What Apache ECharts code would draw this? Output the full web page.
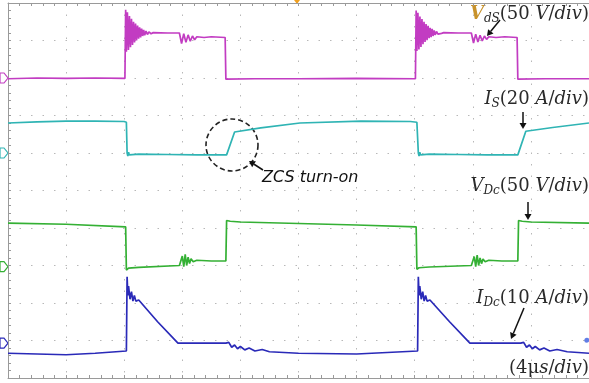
<!DOCTYPE html>
<html>
<head>
<meta charset="utf-8">
<script src="https://cdn.jsdelivr.net/npm/echarts@6/dist/echarts.min.js"></script>
<style>
  html, body { margin: 0; padding: 0; background: #fff; }
  #chart { width: 589px; height: 383px; }
</style>
</head>
<body>
<div id="chart"></div>
<script>
// time in us (4 us/div), amplitude in divisions
var vdsData = [
  [0, 7.98], [2, 8.0], [4, 7.99], [6, 8.0], [8.05, 7.99],
  [8.1, 9.82], [8.15, 8.7], [8.22, 9.75], [8.29, 8.75], [8.36, 9.65], [8.43, 8.82],
  [8.5, 9.58], [8.57, 8.88], [8.64, 9.5], [8.71, 8.95], [8.78, 9.45], [8.85, 9.0],
  [8.92, 9.4], [8.99, 9.05], [9.06, 9.35], [9.13, 9.08], [9.2, 9.32], [9.27, 9.12],
  [9.34, 9.28], [9.41, 9.14], [9.5, 9.25], [9.6, 9.16], [9.7, 9.23], [9.85, 9.18],
  [10, 9.21], [11, 9.2], [11.8, 9.2],
  [11.85, 9.2], [11.95, 8.92], [12.1, 9.18], [12.25, 8.95], [12.4, 9.15], [12.55, 8.98],
  [12.7, 9.12], [12.85, 9.02], [13.0, 9.1], [13.5, 9.08], [14, 9.1], [14.95, 9.08],
  [15.0, 7.97], [17, 7.98], [20, 7.98], [24, 7.99], [28.05, 7.98],
  [28.1, 9.8], [28.15, 8.72], [28.22, 9.74], [28.29, 8.76], [28.36, 9.64], [28.43, 8.83],
  [28.5, 9.57], [28.57, 8.9], [28.64, 9.5], [28.71, 8.96], [28.78, 9.44], [28.85, 9.01],
  [28.92, 9.39], [28.99, 9.06], [29.06, 9.34], [29.13, 9.09], [29.2, 9.31], [29.27, 9.12],
  [29.34, 9.27], [29.41, 9.15], [29.5, 9.24], [29.6, 9.17], [29.7, 9.22], [29.85, 9.19],
  [30, 9.21], [31, 9.2], [31.9, 9.2],
  [31.95, 9.2], [32.05, 8.93], [32.2, 9.17], [32.35, 8.96], [32.5, 9.14], [32.65, 8.99],
  [32.8, 9.12], [32.95, 9.03], [33.1, 9.1], [33.6, 9.08], [34.2, 9.1], [35.05, 9.08],
  [35.1, 7.97], [37, 7.98], [40, 7.98]
];

var isData = [
  [0, 6.8], [2, 6.83], [4, 6.85], [6, 6.85], [8, 6.84], [8.15, 6.82],
  [8.2, 6.0], [8.25, 5.92], [8.3, 6.02], [8.35, 5.95], [8.45, 6.0], [9, 5.97],
  [11, 5.96], [13, 5.95], [15.05, 5.95],
  [15.6, 6.56], [17.4, 6.67], [20.1, 6.8], [24.3, 6.85], [27.7, 6.84], [28.15, 6.82],
  [28.25, 6.0], [28.3, 5.92], [28.35, 6.02], [28.4, 5.95], [28.5, 6.0], [29, 5.97],
  [31, 5.96], [33, 5.95], [35.1, 5.95],
  [35.65, 6.58], [37.5, 6.68], [40, 6.8]
];

var vdcData = [
  [0, 4.13], [4, 4.1], [8.1, 4.03],
  [8.15, 2.88], [8.3, 2.93], [9, 2.95], [11.8, 3.0],
  [11.9, 2.98], [12.0, 3.25], [12.1, 2.97], [12.2, 3.3], [12.3, 3.0], [12.4, 3.22],
  [12.5, 3.05], [12.6, 3.18], [12.75, 3.1], [13, 3.14], [14, 3.12], [15.0, 3.12],
  [15.05, 4.2], [15.15, 4.25], [15.3, 4.18], [16, 4.16], [20, 4.12], [24, 4.08], [28.1, 4.03],
  [28.15, 2.9], [28.3, 2.94], [29, 2.96], [31.9, 3.0],
  [32.0, 2.98], [32.1, 3.24], [32.2, 2.97], [32.3, 3.28], [32.4, 3.0], [32.5, 3.2],
  [32.6, 3.05], [32.7, 3.17], [32.85, 3.1], [33.1, 3.14], [34, 3.12], [35.1, 3.12],
  [35.15, 4.2], [35.25, 4.24], [35.4, 4.18], [36, 4.16], [40, 4.13]
];

var idcData = [
  [0, 0.66], [2, 0.64], [4, 0.62], [6, 0.66], [8.15, 0.72],
  [8.2, 2.7], [8.25, 2.2], [8.3, 2.45], [8.4, 2.1], [8.5, 2.3], [8.6, 2.05], [8.7, 2.2],
  [8.8, 2.05], [9.0, 2.08], [10.3, 1.5], [11.7, 0.93], [15.0, 0.93],
  [15.2, 0.95], [15.4, 0.82], [15.6, 0.88], [15.8, 0.78], [16, 0.84], [16.3, 0.75],
  [16.6, 0.8], [17, 0.72], [17.5, 0.76], [18, 0.7], [19, 0.68], [20, 0.66],
  [24, 0.64], [28.2, 0.72],
  [28.25, 2.7], [28.3, 2.2], [28.35, 2.45], [28.45, 2.1], [28.55, 2.3], [28.65, 2.05],
  [28.75, 2.2], [28.85, 2.05], [29.05, 2.08], [30.4, 1.5], [31.8, 0.93], [35.3, 0.93],
  [35.5, 0.95], [35.7, 0.82], [35.9, 0.88], [36.1, 0.78], [36.3, 0.84], [36.6, 0.75],
  [36.9, 0.8], [37.3, 0.72], [37.8, 0.76], [38.5, 0.7], [40, 0.66]
];

var cursorDot = [[39.85, 1.01]];

// channel ground markers (division levels at left edge)
var chLevels = [8.0, 6.0, 2.97, 0.93];
var chColors = ['#c23cc2', '#2fb4b4', '#34b034', '#2a2ab8'];

var chart = echarts.init(document.getElementById('chart'));

var gridLine = { show: true, lineStyle: { color: '#b8b8b8', type: [1.5, 10], width: 1 } };
var border = { show: true, lineStyle: { color: '#9a9a9a', width: 1 } };
var ticks = { show: true, inside: true, length: 3, lineStyle: { color: '#9a9a9a' } };
var minor = { show: true, splitNumber: 5, length: 3, lineStyle: { color: '#9a9a9a' } };

function lineSeries(data, color) {
  return {
    type: 'line',
    data: data,
    showSymbol: false,
    lineStyle: { color: color, width: 1.7 },
    itemStyle: { color: color },
    silent: true
  };
}

var serif = 'DejaVu Serif';
var labelRich = {
  v: { fontFamily: serif, fontStyle: 'italic', fontSize: 18, fill: '#2a2a2a', lineHeight: 22 },
  g: { fontFamily: serif, fontStyle: 'italic', fontWeight: 'bold', fontSize: 18, fill: '#c8922a', lineHeight: 22 },
  s: { fontFamily: serif, fontStyle: 'italic', fontSize: 12, fill: '#2a2a2a', lineHeight: 15, verticalAlign: 'bottom' },
  n: { fontFamily: serif, fontSize: 18, fill: '#2a2a2a', lineHeight: 22 }
};

function label(text, y) {
  return {
    type: 'text',
    style: { text: text, rich: labelRich, x: 589, y: y, align: 'right', verticalAlign: 'middle' },
    silent: true
  };
}

function arrow(x1, y1, x2, y2) {
  var a = Math.atan2(y2 - y1, x2 - x1);
  var h = 6, w = 3.5;
  var bx = x2 - h * Math.cos(a), by = y2 - h * Math.sin(a);
  return [
    { type: 'line', shape: { x1: x1, y1: y1, x2: bx, y2: by }, style: { stroke: '#111', lineWidth: 1.5 }, silent: true },
    { type: 'polygon', shape: { points: [[x2, y2], [bx - w * Math.sin(a), by + w * Math.cos(a)], [bx + w * Math.sin(a), by - w * Math.cos(a)]] }, style: { fill: '#111' }, silent: true }
  ];
}

chart.setOption({
  animation: false,
  backgroundColor: '#fff',
  grid: { left: 8, right: 0, top: 3, bottom: 5 },
  xAxis: [
    { type: 'value', min: 0, max: 40, interval: 4, position: 'bottom', axisLabel: { show: false },
      axisLine: border, axisTick: ticks, minorTick: minor, splitLine: gridLine },
    { type: 'value', min: 0, max: 40, interval: 4, position: 'top', axisLabel: { show: false },
      axisLine: border, axisTick: ticks, minorTick: minor, splitLine: { show: false } }
  ],
  yAxis: {
    type: 'value', min: 0, max: 10, interval: 1, axisLabel: { show: false },
    axisLine: border, axisTick: ticks, minorTick: minor, splitLine: gridLine
  },
  series: [
    lineSeries(vdsData, chColors[0]),
    lineSeries(isData, chColors[1]),
    lineSeries(vdcData, chColors[2]),
    lineSeries(idcData, chColors[3]),
    { type: 'scatter', data: cursorDot, symbolSize: 5, itemStyle: { color: '#3a5ee0' }, silent: true }
  ]
});

var g = [];
g.push(label('{g|V}{s|dS}{n|(50 }{v|V}{n|/}{v|div}{n|)}', 14));
g.push(label('{v|I}{s|S}{n|(20 }{v|A}{n|/}{v|div}{n|)}', 99));
g.push(label('{v|V}{s|Dc}{n|(50 }{v|V}{n|/}{v|div}{n|)}', 186));
g.push(label('{v|I}{s|Dc}{n|(10 }{v|A}{n|/}{v|div}{n|)}', 298));
g.push(label('{n|(4μ}{v|s}{n|/}{v|div}{n|)}', 368));
g.push({
  type: 'text',
  style: { text: 'ZCS turn-on', x: 262, y: 178, verticalAlign: 'middle', fontFamily: 'DejaVu Sans',
    fontStyle: 'italic', fontSize: 16, fill: '#111' },
  silent: true
});
g.push({
  type: 'circle', shape: { cx: 232, cy: 145, r: 26 },
  style: { fill: 'none', stroke: '#222', lineWidth: 1.6, lineDash: [5, 3] }, silent: true
});
g = g.concat(arrow(500, 20, 487, 36));
g = g.concat(arrow(523, 112, 523, 129));
g = g.concat(arrow(528, 202, 528, 220));
g = g.concat(arrow(524, 308, 511, 339));
g = g.concat(arrow(263, 170, 249, 161));

// trigger marker on top edge
g.push({ type: 'polygon', shape: { points: [[294, 0], [300, 0], [297, 4]] }, style: { fill: '#f0a020' }, silent: true });

chLevels.forEach(function (lv, i) {
  var p = chart.convertToPixel({ gridIndex: 0 }, [0, lv]);
  g.push({
    type: 'polygon',
    shape: { points: [[0, p[1] - 5], [4, p[1] - 5], [8, p[1]], [4, p[1] + 5], [0, p[1] + 5]] },
    style: { fill: '#fff', stroke: chColors[i], lineWidth: 1.2 },
    silent: true
  });
});

chart.setOption({ graphic: g });
</script>
</body>
</html>
